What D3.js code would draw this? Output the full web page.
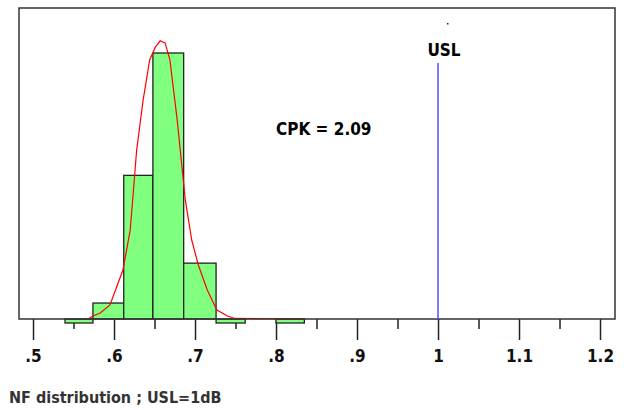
<!DOCTYPE html>
<html><head><meta charset="utf-8">
<script src="https://cdn.jsdelivr.net/npm/d3@7"></script>
<style>body{margin:0;background:#fff}text{font-family:"DejaVu Sans Condensed","DejaVu Sans",sans-serif;font-weight:bold;font-stretch:condensed}</style>
</head><body><svg id="c" width="624" height="410"></svg>
<script>
// histogram bins (edges in dB) and counts
var binStart = [0.5395, 0.574, 0.612, 0.648, 0.686, 0.726, 0.800];
var binEnd   = [0.574, 0.612, 0.648, 0.686, 0.726, 0.762, 0.835];
var counts   = [0, 3, 27, 50, 10.5, 0, 0];
// fitted curve
var curveX = [0.568, 0.574, 0.583, 0.595, 0.611, 0.620, 0.624, 0.628, 0.636, 0.644, 0.651, 0.657, 0.663, 0.669, 0.678, 0.688, 0.696, 0.704, 0.715, 0.727, 0.740, 0.749, 0.836];
var curveY = [0, 0.56, 1.13, 2.63, 9.2, 16.7, 24.2, 31.8, 41.2, 48.7, 51.1, 52.3, 51.9, 48.7, 37.4, 22.4, 14.8, 10.2, 5.5, 1.7, 0.56, 0.1, 0];
var majorTicks = [0.5, 0.6, 0.7, 0.8, 0.9, 1.0, 1.1, 1.2];
var minorTicks = [0.55, 0.65, 0.75, 0.85, 0.95, 1.05, 1.15];
var usl = 1.0;
var cpk = "CPK = 2.09";

var svg = d3.select("#c");
var L = 19, R = 615, T = 8, B = 319;
var x = d3.scaleLinear().domain([0.4827, 1.2185]).range([L, R]);
var y = d3.scaleLinear().domain([0, 50]).range([B, 53]);
var fmt = function (d) { return d === 1 ? "1" : d3.format(".1f")(d).replace(/^0/, ""); };

// major ticks
svg.append("g").attr("transform", "translate(0," + B + ")")
    .call(d3.axisBottom(x).tickValues(majorTicks).tickSize(21).tickPadding(10).tickFormat(fmt))
    .call(function (g) {
        g.select(".domain").remove();
        g.selectAll("line").attr("stroke", "#222").attr("stroke-width", 1.5);
        g.selectAll("text").attr("font-size", 17).attr("fill", "#111").style("font-family", null);
    });
svg.append("g").attr("transform", "translate(0," + B + ")")
    .call(d3.axisBottom(x).tickValues(minorTicks).tickSize(10).tickFormat(""))
    .call(function (g) {
        g.select(".domain").remove();
        g.selectAll("line").attr("stroke", "#222").attr("stroke-width", 1.5);
    });

// bars
svg.selectAll("rect.bar").data(counts).enter().append("rect").attr("class", "bar")
    .attr("x", function (d, i) { return x(binStart[i]); })
    .attr("width", function (d, i) { return x(binEnd[i]) - x(binStart[i]); })
    .attr("y", function (d) { return d > 0 ? y(d) : B; })
    .attr("height", function (d) { return d > 0 ? B - y(d) : 4; })
    .attr("fill", "#80ff80").attr("stroke", "#222").attr("stroke-width", 1.3);

// curve
svg.append("path").datum(curveX)
    .attr("d", d3.line().x(function (d) { return x(d); }).y(function (d, i) { return y(curveY[i]); }))
    .attr("fill", "none").attr("stroke", "#ff0000").attr("stroke-width", 1.2);

// frame
svg.append("rect").attr("x", L).attr("y", T).attr("width", R - L).attr("height", B - T)
    .attr("fill", "none").attr("stroke", "#333").attr("stroke-width", 1.5);

// USL
svg.append("line").attr("x1", x(usl)).attr("x2", x(usl)).attr("y1", 63).attr("y2", B)
    .attr("stroke", "#5050ff").attr("stroke-width", 1.5);
svg.append("text").attr("x", x(usl) + 6).attr("y", 56).attr("text-anchor", "middle").attr("font-size", 17).text("USL");
svg.append("rect").attr("x", 447).attr("y", 23).attr("width", 1.5).attr("height", 1.5).attr("fill", "#222");
svg.append("text").attr("x", 276).attr("y", 135).attr("font-size", 17).text(cpk);

svg.append("text").attr("x", 9).attr("y", 403).attr("font-size", 16).attr("fill", "#333").text("NF distribution ; USL=1dB");
</script></body></html>
